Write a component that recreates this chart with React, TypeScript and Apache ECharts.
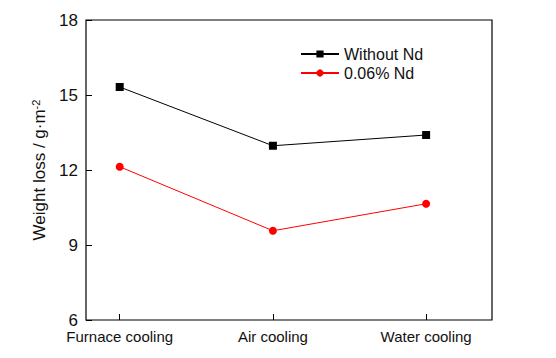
import React, { useEffect, useRef } from "react";
import * as echarts from "echarts";

const categories = ["Furnace cooling", "Air cooling", "Water cooling"];
const xPositions = [1, 2, 3];
const withoutNd = [15.32, 12.97, 13.4];
const nd006 = [12.13, 9.57, 10.65];
const yTicks = [6, 9, 12, 15, 18];

export default function App() {
  const ref = useRef<HTMLDivElement>(null);
  useEffect(() => {
    document.body.style.margin = "0";
    const chart = echarts.init(ref.current!, null, { renderer: "svg" });
    const font = "Liberation Sans, Arial, sans-serif";
    chart.setOption({
      animation: false,
      backgroundColor: "#fff",
      grid: {
        left: 86,
        top: 20,
        right: 64,
        bottom: 38,
        show: true,
        borderColor: "#000",
        borderWidth: 1.2,
      },
      legend: {
        left: 300,
        top: 46,
        padding: 0,
        orient: "vertical",
        itemWidth: 38,
        itemHeight: 9,
        itemGap: 3,
        textStyle: { fontFamily: font, fontSize: 16, color: "#111" },
        data: ["Without Nd", "0.06% Nd"],
      },
      xAxis: {
        type: "value",
        min: 0.78,
        max: 3.43,
        interval: 1,
        splitLine: { show: false },
        axisLine: { show: false },
        axisTick: { show: true, inside: true, length: 6, customValues: xPositions, lineStyle: { color: "#000" } },
        axisLabel: {
          margin: 9,
          fontFamily: font,
          fontSize: 15,
          color: "#111",
          customValues: xPositions,
          formatter: (v: number) => {
            const i = xPositions.indexOf(Math.round(v * 100) / 100);
            return i >= 0 ? categories[i] : "";
          },
        },
      },
      yAxis: {
        type: "value",
        min: yTicks[0],
        max: yTicks[yTicks.length - 1],
        interval: 3,
        splitLine: { show: false },
        axisLine: { show: false },
        axisTick: { show: true, inside: true, length: 6, lineStyle: { color: "#000" } },
        axisLabel: { margin: 8, fontFamily: font, fontSize: 17, color: "#111" },
        name: "Weight loss / g·m{sup|-2}",
        nameLocation: "middle",
        nameGap: 34,
        nameRotate: 90,
        nameTextStyle: {
          fontFamily: font,
          fontSize: 17,
          color: "#111",
          rich: {
            sup: { fontSize: 11, verticalAlign: "top", padding: [0, 0, 8, 0], fontFamily: font, color: "#111" },
          },
        },
      },
      series: [
        {
          name: "Without Nd",
          type: "line",
          data: xPositions.map((x, i) => [x, withoutNd[i]]),
          symbol: "rect",
          symbolSize: 8,
          itemStyle: { color: "#000" },
          lineStyle: { color: "#000", width: 1 },
        },
        {
          name: "0.06% Nd",
          type: "line",
          data: xPositions.map((x, i) => [x, nd006[i]]),
          symbol: "circle",
          symbolSize: 8,
          itemStyle: { color: "#ff0000" },
          lineStyle: { color: "#ff0000", width: 1 },
        },
      ],
    });
    return () => chart.dispose();
  }, []);
  return <div ref={ref} style={{ width: 556, height: 358 }} />;
}
